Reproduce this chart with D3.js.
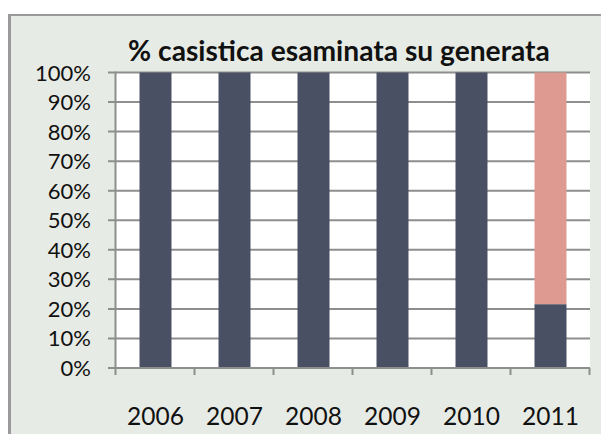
<!DOCTYPE html>
<html><head><meta charset="utf-8">
<script src="https://cdn.jsdelivr.net/npm/d3@7"></script>
<style>body{margin:0;background:#fff}svg{display:block}</style>
</head><body>
<script>
const title = "% casistica esaminata su generata";
const years = ["2006","2007","2008","2009","2010","2011"];
const esaminata = [100,100,100,100,100,21.6];
const nonEsaminata = [0,0,0,0,0,78.4];
const yTicks = [0,10,20,30,40,50,60,70,80,90,100];
const seriesNames = ["esaminata","nonEsaminata"];
const colors = ["#4A5064","#DE9A91"];

(function(){
const W = 601, H = 434;
const svg = d3.select("body").append("svg").attr("width", W).attr("height", H);

// panel
svg.append("rect").attr("x",8).attr("y",14).attr("width",W-8).attr("height",H-14).attr("fill","#E7EBE5");
svg.append("line").attr("x1",9.5).attr("x2",9.5).attr("y1",14).attr("y2",H).attr("stroke","#9a9a9a").attr("stroke-width",3);
svg.append("line").attr("x1",8).attr("x2",W).attr("y1",15).attr("y2",15).attr("stroke","#9a9a9a").attr("stroke-width",2);

const pLeft = 116, pRight = 590, pTop = 72.5, pBottom = 368;
const x = d3.scaleBand().domain(years).range([pLeft, pRight]).paddingInner(0.595).paddingOuter(0.2975);
const xOuter = d3.scaleBand().domain(years).range([pLeft, pRight]);
const y = d3.scaleLinear().domain([0,100]).range([pBottom, pTop]);

svg.append("rect").attr("x",pLeft).attr("y",pTop).attr("width",pRight-pLeft).attr("height",pBottom-pTop).attr("fill","#fff");

// gridlines
svg.append("g").selectAll("line").data(yTicks).join("line")
  .attr("x1", pLeft-8).attr("x2", pRight).attr("y1", d=>y(d)).attr("y2", d=>y(d))
  .attr("stroke","#8e8e8e").attr("stroke-width",2);

// stacked bars
const table = years.map((yr,i)=>({year:yr, esaminata:esaminata[i], nonEsaminata:nonEsaminata[i]}));
const stack = d3.stack().keys(seriesNames)(table);
svg.append("g").selectAll("g").data(stack).join("g").attr("fill",(d,i)=>colors[i])
  .selectAll("rect").data(d=>d).join("rect")
  .attr("x", d=>x(d.data.year)).attr("width", x.bandwidth())
  .attr("y", d=>y(d[1])).attr("height", d=>y(d[0])-y(d[1]));

// axes lines
svg.append("line").attr("x1",pLeft-0.5).attr("x2",pLeft-0.5).attr("y1",pTop-1).attr("y2",pBottom+7).attr("stroke","#8e8e8e").attr("stroke-width",2);
svg.append("line").attr("x1",pLeft-8).attr("x2",pRight).attr("y1",pBottom).attr("y2",pBottom).attr("stroke","#8e8e8e").attr("stroke-width",2);
const bounds = years.map(yr=>xOuter(yr)+xOuter.bandwidth());
svg.append("g").selectAll("line").data(bounds).join("line")
  .attr("x1",d=>d-0.5).attr("x2",d=>d-0.5).attr("y1",pBottom).attr("y2",pBottom+7)
  .attr("stroke","#8e8e8e").attr("stroke-width",2);

// y labels
svg.append("g").selectAll("text").data(yTicks).join("text")
  .attr("x", 91).attr("y", d=>y(d)+8)
  .attr("text-anchor","end").attr("font-family","Lato").attr("font-size",22).attr("fill","#111")
  .text(d=>d+"%");

// x labels
svg.append("g").selectAll("text").data(years).join("text")
  .attr("x", d=>x(d)+x.bandwidth()/2).attr("y", 425)
  .attr("text-anchor","middle").attr("font-family","Lato").attr("font-size",24.5).attr("fill","#111")
  .text(d=>d);

// title
const t = svg.append("text").attr("x",339).attr("y",61).attr("text-anchor","middle")
  .attr("font-family","Lato").attr("font-weight","bold").attr("font-size",26).attr("fill","#111").text(title);
const tl = t.node().getComputedTextLength();
if (tl > 0) t.attr("font-size", 26*422/tl);
})();
</script>
</body></html>
